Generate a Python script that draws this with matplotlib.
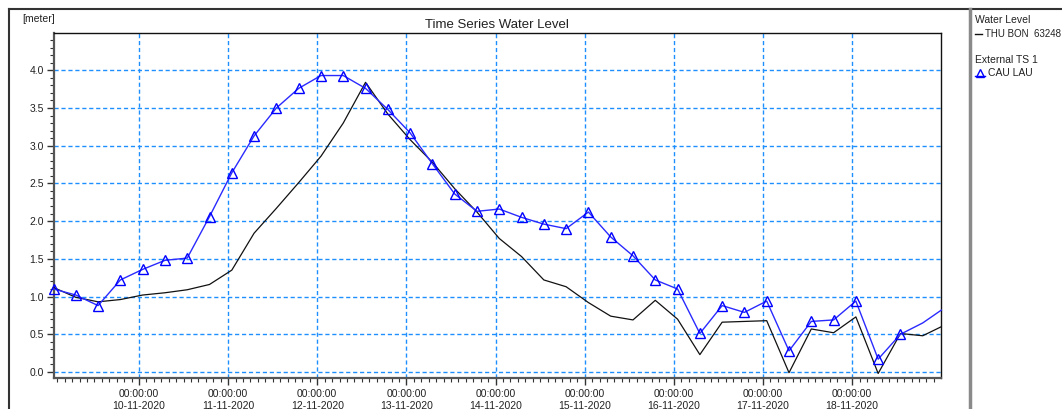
import numpy as np
import matplotlib
matplotlib.use("Agg")
import matplotlib.pyplot as plt
import matplotlib.dates as mdates
from matplotlib.lines import Line2D
from matplotlib.ticker import MultipleLocator, FormatStrFormatter

plt.rcParams['font.family'] = ['Liberation Sans', 'DejaVu Sans']

# ---- data (6-hourly, starting 09-11-2020 01:00; last point at 19-11-2020 00:00) ----
start = np.datetime64('2020-11-09T01:00')
times = list(start + np.arange(40) * np.timedelta64(6, 'h')) + [np.datetime64('2020-11-19T00:00')]
times = np.array(times, dtype='datetime64[m]')

thu_bon = [1.12, 0.99, 0.93, 0.96, 1.02, 1.05, 1.09, 1.16, 1.35, 1.84,
           2.17, 2.51, 2.86, 3.30, 3.84, 3.42, 3.08, 2.78, 2.43, 2.12,
           1.77, 1.53, 1.22, 1.13, 0.92, 0.74, 0.69, 0.95, 0.70, 0.23,
           0.66, 0.67, 0.68, -0.01, 0.57, 0.52, 0.73, -0.02, 0.51, 0.48,
           0.60]
cau_lau = [1.10, 1.02, 0.88, 1.22, 1.36, 1.48, 1.51, 2.06, 2.64, 3.13,
           3.50, 3.76, 3.93, 3.93, 3.76, 3.48, 3.17, 2.76, 2.36, 2.13,
           2.16, 2.05, 1.96, 1.90, 2.12, 1.79, 1.54, 1.22, 1.10, 0.51,
           0.88, 0.79, 0.94, 0.28, 0.67, 0.69, 0.94, 0.17, 0.50, 0.65,
           0.82]
n_marked = 39  # triangles drawn on the first 39 points

title = "Time Series Water Level"
y_unit = "[meter]"
legend_group1 = "Water Level"
legend_item1 = "THU BON  63248"
legend_group2 = "External TS 1"
legend_item2 = "CAU LAU"

W, H = 1062, 409
fig = plt.figure(figsize=(W / 100, H / 100), dpi=100)
fig.patch.set_facecolor('white')

def fx(px):
    return px / W

def fy(py):
    return 1 - py / H

ax = fig.add_axes([fx(53.5), fy(378), fx(941) - fx(53.5), fy(33.3) - fy(378)])

grid_c = '#1e8fff'
ax.plot(times, thu_bon, color='#111111', lw=0.9, zorder=3, clip_on=False)
ax.plot(times, cau_lau, color='#2a2aff', lw=1.0, marker='^', ms=6.5,
        mfc='none', mec='#0000ff', mew=1.0, markevery=list(range(n_marked)),
        zorder=4, clip_on=False)

ax.set_xlim(np.datetime64('2020-11-09T01:00'), np.datetime64('2020-11-18T23:55'))
ax.set_ylim(-0.08, 4.49)

ax.yaxis.set_major_locator(MultipleLocator(0.5))
ax.yaxis.set_minor_locator(MultipleLocator(0.1))
ax.yaxis.set_major_formatter(FormatStrFormatter('%.1f'))
ax.xaxis.set_major_locator(mdates.DayLocator())
ax.xaxis.set_minor_locator(mdates.HourLocator(byhour=range(0, 24, 2)))
ax.xaxis.set_major_formatter(mdates.DateFormatter('%H:%M:%S\n%d-%m-%Y'))

ax.tick_params(axis='both', which='major', length=5, width=1, color='#333333',
               labelsize=7.5, labelcolor='#222222', pad=2)
ax.tick_params(axis='both', which='minor', length=3, width=0.8, color='#333333')
ax.tick_params(axis='x', which='major', pad=3)
for lab in ax.get_xticklabels():
    lab.set_linespacing(1.25)

ax.grid(True, which='major', color=grid_c, linestyle=(0, (3, 2)), lw=1.0, zorder=1)

for s in ['left', 'bottom']:
    ax.spines[s].set_color('#555555')
    ax.spines[s].set_linewidth(1.6)
for s in ['top', 'right']:
    ax.spines[s].set_color('#111111')
    ax.spines[s].set_linewidth(1.0)

# titles
fig.text(fx(497), fy(25), title, ha='center', va='center', fontsize=9.5, color='#222222')
fig.text(fx(22), fy(19), y_unit, ha='left', va='center', fontsize=7.5, color='#222222')

# outer frame and divider
fig.add_artist(Line2D([fx(9), fx(1062)], [fy(9), fy(9)], color='#333333', lw=1.5))
fig.add_artist(Line2D([fx(9), fx(9)], [fy(9), fy(409)], color='#333333', lw=1.5))
fig.add_artist(Line2D([fx(970), fx(970)], [fy(9), fy(409)], color='#8a8a8a', lw=2.5))

# legend panel
fig.text(fx(975), fy(20), legend_group1, ha='left', va='center', fontsize=7.5, color='#222222')
fig.add_artist(Line2D([fx(975), fx(982)], [fy(34), fy(34)], color='#111111', lw=1.0))
fig.text(fx(985), fy(34), legend_item1, ha='left', va='center', fontsize=7, color='#222222')
fig.text(fx(975), fy(60), legend_group2, ha='left', va='center', fontsize=7.5, color='#222222')
fig.add_artist(Line2D([fx(975), fx(985)], [fy(76), fy(76)], color='#0000ff', lw=1.0))
fig.add_artist(Line2D([fx(980)], [fy(73)], color='#0000ff', marker='^', ms=6,
                      mfc='none', mec='#0000ff', mew=1.0, lw=0))
fig.text(fx(988), fy(73), legend_item2, ha='left', va='center', fontsize=7.5, color='#222222')

fig.savefig('out.png', dpi=100)
